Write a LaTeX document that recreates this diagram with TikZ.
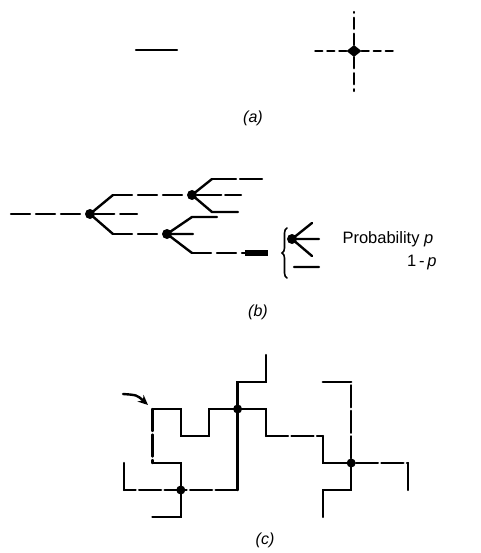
\documentclass[tikz,border=0pt]{standalone}
\usepackage{fontspec}
\setmainfont{Liberation Sans}
\usetikzlibrary{arrows.meta,calc,positioning,decorations.pathreplacing,shapes.geometric}

\begin{document}
\begin{tikzpicture}[x=1pt, y=-1pt, line join=miter, line cap=round,
    font=\fontsize{16.5}{19}\selectfont,
    bond/.style={line width=2.4pt},
    gapbond/.style={bond, dash pattern=on 19pt off 6pt},
    walkgap/.style={bond, dash pattern=on 22pt off 3.5pt},
    site/.style={circle, fill, inner sep=0pt, minimum size=10pt},
    lbl/.style={font=\fontsize{16}{18}\selectfont\itshape}]
    \useasboundingbox (0,0) rectangle (480,553);

    % (a)
    \coordinate (a1) at (136,50);
    \coordinate (a2) at (177,50);
    \draw[bond] (a1) -- (a2);
    \node[diamond, fill, inner sep=0pt, minimum width=15pt, minimum height=12pt] (x) at (354,51) {};
    \coordinate (xw) at (313,51);
    \coordinate (xe) at (395,51);
    \coordinate (xn) at (354,12);
    \coordinate (xs) at (354,91);
    \draw[bond, dash pattern=on 7pt off 5pt] (x) -- (xw) (x) -- (xe);
    \draw[bond, dash pattern=on 11pt off 5pt] (x) -- (xn) (x) -- (xs);
    \node[lbl] (la) at (253,118) {(a)};

    % (b)
    \node[site] (A) at (90,214) {};
    \node[site] (B) at (192,195) {};
    \node[site] (C) at (167,234) {};
    \coordinate (r0) at (11,214);
    \coordinate (A1) at (113,195);
    \coordinate (A2) at (137,214);
    \coordinate (A3) at (113,234);
    \coordinate (B1) at (212,179);
    \coordinate (B1e) at (262,179);
    \coordinate (B2) at (241,195);
    \coordinate (B3) at (212,212);
    \coordinate (B3e) at (238,212);
    \coordinate (C1) at (192,217);
    \coordinate (C1e) at (217,217);
    \coordinate (C2) at (193,234);
    \coordinate (C3) at (192,253);
    \coordinate (C3e) at (245,253);
    \coordinate (C3t) at (268,253);
    \draw[gapbond] (r0) -- (A);
    \draw[bond] (A.center) -- (A1) (A.center) -- (A3);
    \draw[gapbond] (A1) -- (B) (A) -- (A2) (A3) -- (C);
    \draw[bond] (B.center) -- (B1) (B.center) -- (B3) -- (B3e);
    \draw[gapbond, dash pattern=on 24pt off 4pt] (B1) -- (B1e) (B) -- (B2);
    \draw[bond] (C.center) -- (C1) -- (C1e) (C.center) -- (C2) (C.center) -- (C3);
    \draw[gapbond] (C3) -- (C3e);
    \draw[line width=5.5pt, line cap=butt] (C3e) -- (C3t);

    \coordinate (br1) at (287,278);
    \coordinate (br2) at (287,228);
    \draw[line width=1.6pt, decorate, decoration={brace, amplitude=5pt}] (br1) -- (br2);
    \node[site] (L) at (292,239) {};
    \coordinate (Lu) at (312,223);
    \coordinate (Lm) at (319,239);
    \coordinate (Ld) at (312,256);
    \coordinate (q1) at (294,267);
    \coordinate (q2) at (319,267);
    \draw[bond] (L.center) -- (Lu) (L.center) -- (Lm) (L.center) -- (Ld) (q1) -- (q2);
    \node[anchor=west] (tp) at (339,239) {Probability \textit{p}};
    \node[anchor=east] (tq) at (440,263) {1\,-\,\textit{p}};
    \node[lbl] (lb) at (258,312) {(b)};

    % (c)
    \foreach \i in {0,...,10}
        \foreach \j in {0,...,6}
            \coordinate (g\i-\j) at ({124+28.4*\i},{355+27*\j});
    \node[site, minimum size=9pt] (D) at (g4-2) {};
    \node[site, minimum size=9pt] (E) at (g2-5) {};
    \node[site, minimum size=9pt] (F) at (g8-4) {};
    \draw[bond] (g1-2) -- (g2-2) -- (g2-3) -- (g3-3) -- (g3-2) -- (D.center) -- (g5-2) -- (g5-3);
    \draw[walkgap] (g5-3) -- (g7-3);
    \draw[bond] (g7-3) -- (g7-4) -- (F.center);
    \draw[walkgap] (F) -- (g10-4);
    \draw[bond] (g10-4) -- (g10-5);
    \draw[bond] (D.center) -- (g4-1) -- (g5-1) -- (g5-0);
    \draw[bond] (D.center) -- (g4-5);
    \draw[walkgap] (g4-5) -- (g0-5);
    \draw[bond] (g0-5) -- (g0-4);
    \draw[walkgap] (g1-2) -- (g1-4);
    \draw[bond] (g1-4) -- (g2-4) -- (E.center) -- (g2-6) -- (g1-6);
    \draw[walkgap] (F) -- (g8-1);
    \draw[bond] (g8-1) -- (g7-1);
    \draw[bond] (F.center) -- (g8-5) -- (g7-5) -- (g7-6);

    \coordinate (arrtail) at (123,394);
    \draw[line width=2.4pt, -{Stealth[length=10pt,width=9pt]}, shorten >=6pt]
        (arrtail) .. controls (137,395) .. (g1-2);
    \node[lbl] (lc) at (265,540) {(c)};
\end{tikzpicture}
\end{document}
